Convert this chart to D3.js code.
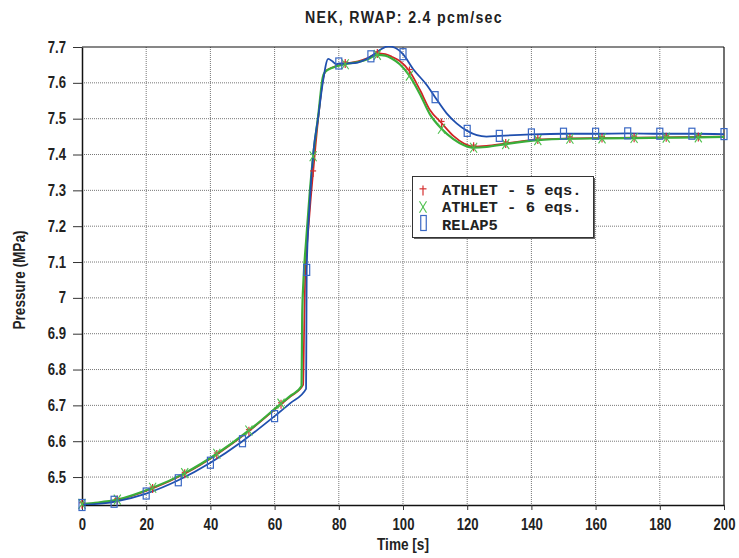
<!DOCTYPE html>
<html>
<head>
<meta charset="utf-8">
<script src="https://cdn.jsdelivr.net/npm/d3@7/dist/d3.min.js"></script>
<style>
  html, body { margin: 0; padding: 0; background: #fff; }
  svg { display: block; }
  .lbl { font-family: "Liberation Sans", Arial, sans-serif; font-weight: bold; fill: #222; }
</style>
</head>
<body>
<svg id="chart" width="739" height="558"></svg>
<script>
// ---------------- data ----------------
const chartTitle = "NEK, RWAP: 2.4 pcm/sec";
const xLabel = "Time [s]";
const yLabel = "Pressure (MPa)";
const xTicks = [0, 20, 40, 60, 80, 100, 120, 140, 160, 180, 200];
const yTicks = [6.5, 6.6, 6.7, 6.8, 6.9, 7.0, 7.1, 7.2, 7.3, 7.4, 7.5, 7.6, 7.7];
const yTickLabels = ["6.5", "6.6", "6.7", "6.8", "6.9", "7", "7.1", "7.2", "7.3", "7.4", "7.5", "7.6", "7.7"];
const seriesNames = ["ATHLET - 5 eqs.", "ATHLET - 6 eqs.", "RELAP5"];

// ATHLET - 5 eqs.
const athlet5Time = [0, 5, 11, 22, 32, 42, 52, 62, 65, 68.9, 69.2, 69.5, 70.5, 71.2, 72, 73.6, 75, 75.8, 78, 82, 86, 89, 92, 94.5, 96.5, 99, 102, 105.3, 108.4, 112, 115.7, 119, 122, 126, 132, 142, 152, 162, 172, 182, 192, 200];
const athlet5P = [6.424, 6.428, 6.436, 6.468, 6.509, 6.563, 6.628, 6.703, 6.725, 6.757, 6.91, 7.05, 7.19, 7.27, 7.35, 7.50, 7.605, 7.632, 7.643, 7.654, 7.660, 7.669, 7.682, 7.680, 7.673, 7.661, 7.633, 7.580, 7.524, 7.488, 7.452, 7.431, 7.422, 7.424, 7.431, 7.442, 7.445, 7.446, 7.447, 7.448, 7.449, 7.450];
const athlet5MarkTime = [0, 11, 22, 32, 42, 52, 62, 72, 82, 92, 102, 112, 122, 132, 142, 152, 162, 172, 182, 192];

// ATHLET - 6 eqs.
const athlet6Time = [0, 5, 11, 22, 32, 42, 52, 62, 65, 68.4, 68.6, 69.0, 69.8, 71, 72, 73.6, 75, 75.7, 78, 82, 86, 89, 92, 94.5, 96.5, 99, 102, 105.3, 108.4, 112, 115.7, 119, 122, 126, 132, 142, 152, 162, 172, 182, 192, 200];
const athlet6P = [6.425, 6.429, 6.437, 6.470, 6.511, 6.565, 6.630, 6.705, 6.727, 6.754, 6.95, 7.05, 7.157, 7.30, 7.395, 7.51, 7.615, 7.630, 7.642, 7.652, 7.658, 7.666, 7.678, 7.676, 7.668, 7.652, 7.620, 7.568, 7.512, 7.472, 7.443, 7.426, 7.419, 7.421, 7.429, 7.440, 7.444, 7.445, 7.446, 7.447, 7.448, 7.449];
const athlet6MarkTime = [0, 11, 22, 32, 42, 52, 62, 72, 82, 92, 102, 112, 122, 132, 142, 152, 162, 172, 182, 192];

// RELAP5
const relap5Time = [0, 10, 20, 30, 40, 50, 60, 65, 69.8, 69.9, 70, 71, 72, 73.6, 75, 76.7, 78, 79.3, 80, 85, 90, 93, 95.4, 97.5, 100, 103.2, 107.4, 110, 113.6, 116.7, 120, 123, 126, 130, 140, 150, 160, 170, 180, 190, 200];
const relap5P = [6.422, 6.431, 6.454, 6.491, 6.540, 6.600, 6.670, 6.707, 6.746, 6.90, 7.078, 7.273, 7.40, 7.505, 7.60, 7.667, 7.660, 7.652, 7.654, 7.655, 7.674, 7.693, 7.702, 7.698, 7.680, 7.638, 7.594, 7.560, 7.515, 7.487, 7.466, 7.454, 7.450, 7.452, 7.456, 7.458, 7.458, 7.459, 7.458, 7.458, 7.457];
const relap5MarkTime = [0, 10, 20, 30, 40, 50, 60, 70, 80, 90, 100, 110, 120, 130, 140, 150, 160, 170, 180, 190, 200];

// ---------------- chart ----------------
const colors = { red: "#d02424", green: "#3aae3a", blue: "#1f4fae" };
const markColors = { red: "#d63030", green: "#4cc04c", blue: "#3a68c4" };
const svg = d3.select("#chart");
const L = 82, R = 724, T = 47, B = 505;
const x = d3.scaleLinear().domain([0, 200]).range([L, R]);
const y = d3.scaleLinear().domain([6.422, 7.7]).range([B, T]);

// narrow look: compress bold sans glyphs horizontally
function condense(sel, f) {
  sel.each(function () {
    const w = this.getComputedTextLength();
    d3.select(this).attr("textLength", w * f).attr("lengthAdjust", "spacingAndGlyphs");
  });
}

// grid
const grid = svg.append("g");
grid.selectAll("line.v").data(xTicks.filter(d => d > 0 && d < 200)).join("line")
  .attr("x1", d => x(d)).attr("x2", d => x(d)).attr("y1", T).attr("y2", B)
  .attr("stroke", "#777").attr("stroke-width", 1).attr("stroke-dasharray", "1,1");
grid.selectAll("line.h").data(yTicks.filter(d => d < 7.7)).join("line")
  .attr("x1", L).attr("x2", R).attr("y1", d => y(d)).attr("y2", d => y(d))
  .attr("stroke", "#777").attr("stroke-width", 1).attr("stroke-dasharray", "1,1");

// axes
const xAxis = svg.append("g").attr("transform", `translate(0,${B})`)
  .call(d3.axisBottom(x).tickValues(xTicks).tickSize(5).tickPadding(9).tickSizeOuter(0));
const yAxis = svg.append("g").attr("transform", `translate(${L},0)`)
  .call(d3.axisLeft(y).tickValues(yTicks).tickFormat((d, i) => yTickLabels[i]).tickSize(9).tickPadding(7).tickSizeOuter(0));
[xAxis, yAxis].forEach(a => {
  a.select(".domain").attr("stroke", "#111").attr("stroke-width", 1.5);
  a.selectAll(".tick line").attr("stroke", "#333");
  a.selectAll(".tick text").attr("class", "lbl").style("font-size", "16px").attr("fill", "#222").call(condense, 0.82);
});
// frame top/right
svg.append("line").attr("x1", L).attr("x2", R).attr("y1", T).attr("y2", T).attr("stroke", "#111").attr("stroke-width", 1.2);
svg.append("line").attr("x1", R).attr("x2", R).attr("y1", T).attr("y2", B).attr("stroke", "#111").attr("stroke-width", 1.2);

// clip
svg.append("clipPath").attr("id", "plotclip").append("rect")
  .attr("x", L).attr("y", T - 1).attr("width", R - L).attr("height", B - T + 1);

const line = d3.line().x(d => x(d[0])).y(d => y(d[1])).curve(d3.curveMonotoneX);
const zip = (ts, ps) => ts.map((t, i) => [t, ps[i]]);
const s5 = zip(athlet5Time, athlet5P);
const s6 = zip(athlet6Time, athlet6P);
const sR = zip(relap5Time, relap5P);

const plot = svg.append("g").attr("clip-path", "url(#plotclip)");
plot.append("path").datum(s5).attr("d", line).attr("fill", "none").attr("stroke", colors.red).attr("stroke-width", 1.7);
plot.append("path").datum(s6).attr("d", line).attr("fill", "none").attr("stroke", colors.green).attr("stroke-width", 2.2);
plot.append("path").datum(sR).attr("d", line).attr("fill", "none").attr("stroke", colors.blue).attr("stroke-width", 1.8);

// marker drawers
function plusMark(g, cx, cy, w, h, c) {
  g.append("line").attr("x1", cx).attr("x2", cx).attr("y1", cy - h / 2).attr("y2", cy + h / 2).attr("stroke", c).attr("stroke-width", 1.2);
  g.append("line").attr("x1", cx - w / 2).attr("x2", cx + w / 2).attr("y1", cy - h / 6).attr("y2", cy - h / 6).attr("stroke", c).attr("stroke-width", 1.2);
}
function xMark(g, cx, cy, w, h, c) {
  g.append("line").attr("x1", cx - w / 2).attr("x2", cx + w / 2).attr("y1", cy - h / 2).attr("y2", cy + h / 2).attr("stroke", c).attr("stroke-width", 1.1);
  g.append("line").attr("x1", cx + w / 2).attr("x2", cx - w / 2).attr("y1", cy - h / 2).attr("y2", cy + h / 2).attr("stroke", c).attr("stroke-width", 1.1);
}
function rectMark(g, cx, cy, w, h, c) {
  g.append("rect").attr("x", cx - w / 2).attr("y", cy - h / 2).attr("width", w).attr("height", h)
    .attr("fill", "none").attr("stroke", c).attr("stroke-width", 1.2);
}
const mk = svg.append("g");
s5.filter(d => athlet5MarkTime.includes(d[0])).forEach(d => plusMark(mk, x(d[0]), y(d[1]), 6, 9, markColors.red));
s6.filter(d => athlet6MarkTime.includes(d[0])).forEach(d => xMark(mk, x(d[0]), y(d[1]), 7, 10, markColors.green));
sR.filter(d => relap5MarkTime.includes(d[0])).forEach(d => rectMark(mk, x(d[0]), y(d[1]), 6, 11, markColors.blue));

// legend
const lg = svg.append("g");
lg.append("rect").attr("x", 414).attr("y", 178).attr("width", 181).attr("height", 61).attr("fill", "#666");
lg.append("rect").attr("x", 412.5).attr("y", 176.5).attr("width", 181).attr("height", 61).attr("fill", "#fff").attr("stroke", "#333").attr("stroke-width", 1);
plusMark(lg, 423, 190.5, 7, 10, markColors.red);
xMark(lg, 423, 207, 7, 11.5, markColors.green);
rectMark(lg, 423.5, 223, 5.5, 15, markColors.blue);
lg.selectAll("text").data(seriesNames).join("text")
  .attr("x", 442).attr("y", (d, i) => 194.5 + i * 17.5)
  .style("font-family", "'Liberation Mono', 'Courier New', monospace").style("font-weight", "bold").style("font-size", "15.5px")
  .attr("fill", "#222").text(d => d);

// titles
svg.append("text").attr("class", "lbl").attr("x", 305).attr("y", 22.5)
  .attr("textLength", 198).attr("lengthAdjust", "spacingAndGlyphs").style("font-size", "16px")
  .style("letter-spacing", "1.5px").text(chartTitle);
svg.append("text").attr("class", "lbl").attr("x", 403).attr("y", 549.5).attr("text-anchor", "middle")
  .style("font-size", "16px").text(xLabel).call(condense, 0.85);
svg.append("text").attr("class", "lbl").attr("transform", "translate(24.5,280) rotate(-90)").attr("text-anchor", "middle")
  .style("font-size", "16px").text(yLabel).call(condense, 0.85);
</script>
</body>
</html>
